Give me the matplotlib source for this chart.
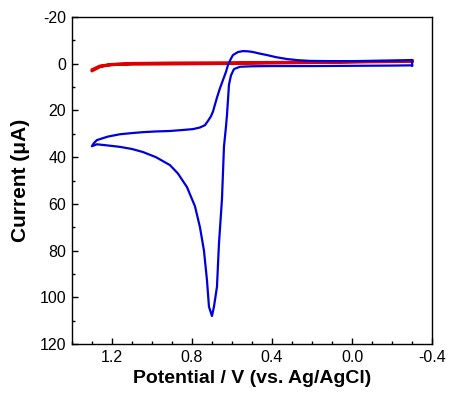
import matplotlib
matplotlib.use("Agg")
import matplotlib.pyplot as plt
from matplotlib.ticker import MultipleLocator

# blue CV: forward sweep from -0.3 V, big peak, turn at 1.3 V, back to -0.3 V
blue_potential = [-0.30, -0.20, 0.00, 0.20, 0.40, 0.50, 0.56, 0.59, 0.605, 0.615,
                  0.62, 0.625, 0.63, 0.64, 0.65, 0.665, 0.675, 0.69, 0.70,
                  0.715, 0.725, 0.74, 0.76, 0.785, 0.825, 0.87, 0.91, 0.98, 1.045,
                  1.10, 1.16, 1.22, 1.275, 1.30,
                  1.29, 1.275, 1.22, 1.16, 1.10, 1.045, 0.98, 0.91, 0.85, 0.795,
                  0.76, 0.735, 0.72, 0.705, 0.695, 0.675, 0.66, 0.645, 0.63,
                  0.62, 0.605, 0.595, 0.57, 0.545, 0.52, 0.495, 0.46, 0.425,
                  0.38, 0.325, 0.27, 0.21, 0.10, 0.00, -0.10, -0.20, -0.25, -0.30, -0.30]
blue_current = [0.7, 0.8, 0.9, 1.0, 1.0, 1.1, 1.3, 2.3, 5.0, 9.0,
                15.6, 22.0, 27.0, 35.5, 58.0, 77.0, 95.5, 104.0, 108.0,
                104.0, 92.6, 80.0, 70.0, 61.0, 52.8, 47.0, 43.4, 40.0, 37.8,
                36.5, 35.6, 35.0, 34.5, 35.3,
                34.0, 32.7, 31.2, 30.2, 29.7, 29.3, 29.0, 28.8, 28.4, 28.0,
                27.3, 26.3, 24.5, 22.5, 20.5, 14.5, 10.5, 7.0, 3.5,
                0.6, -2.2, -3.7, -5.0, -5.4, -5.3, -5.0, -4.3, -3.7,
                -2.8, -2.0, -1.5, -1.2, -1.1, -1.1, -1.2, -1.3, -1.4, -1.6, 0.7]

# red CV (blank): forward and reverse sweeps almost on top of each other
red_potential = [-0.30, -0.10, 0.10, 0.30, 0.60, 0.90, 1.10, 1.175, 1.22, 1.26, 1.30,
                 1.30, 1.26, 1.20, 1.10, 0.90, 0.60, 0.30, 0.10, -0.10, -0.30]
red_current = [-1.0, -0.8, -0.6, -0.4, -0.1, 0.1, 0.2, 0.3, 0.6, 1.3, 3.1,
               2.6, 1.0, 0.3, -0.1, -0.3, -0.4, -0.6, -0.8, -1.0, -1.3]

x_ticks = [1.2, 0.8, 0.4, 0.0, -0.4]
x_ticklabels = ["1.2", "0.8", "0.4", "0.0", "-0.4"]

plt.rcParams["font.family"] = ["Liberation Sans", "DejaVu Sans"]
plt.rcParams["axes.unicode_minus"] = False

fig = plt.figure(figsize=(4.52, 3.95), dpi=100)
ax = fig.add_axes([0.159, 0.129, 0.797, 0.828])

ax.plot(red_potential, red_current, color="#dd0000", linewidth=2.2)
ax.plot(blue_potential, blue_current, color="#0000dd", linewidth=1.6)

ax.set_xlim(1.4, -0.4)
ax.set_ylim(120, -20)
ax.xaxis.set_minor_locator(MultipleLocator(0.1))
ax.yaxis.set_major_locator(MultipleLocator(20))
ax.yaxis.set_minor_locator(MultipleLocator(10))
ax.set_xticks(x_ticks)
ax.set_xticklabels(x_ticklabels)

ax.tick_params(which="both", direction="in", top=False, right=False, labelsize=11.5, pad=4)
ax.tick_params(which="major", length=4.5, width=1)
ax.tick_params(which="minor", length=2.3, width=1)
for s in ax.spines.values():
    s.set_linewidth(1.0)

ax.set_xlabel("Potential / V (vs. Ag/AgCl)", fontsize=14, fontweight="bold", labelpad=4)
ax.set_ylabel("Current (\u03bcA)", fontsize=15, fontweight="bold", labelpad=7)

fig.savefig("out.png", dpi=100)
